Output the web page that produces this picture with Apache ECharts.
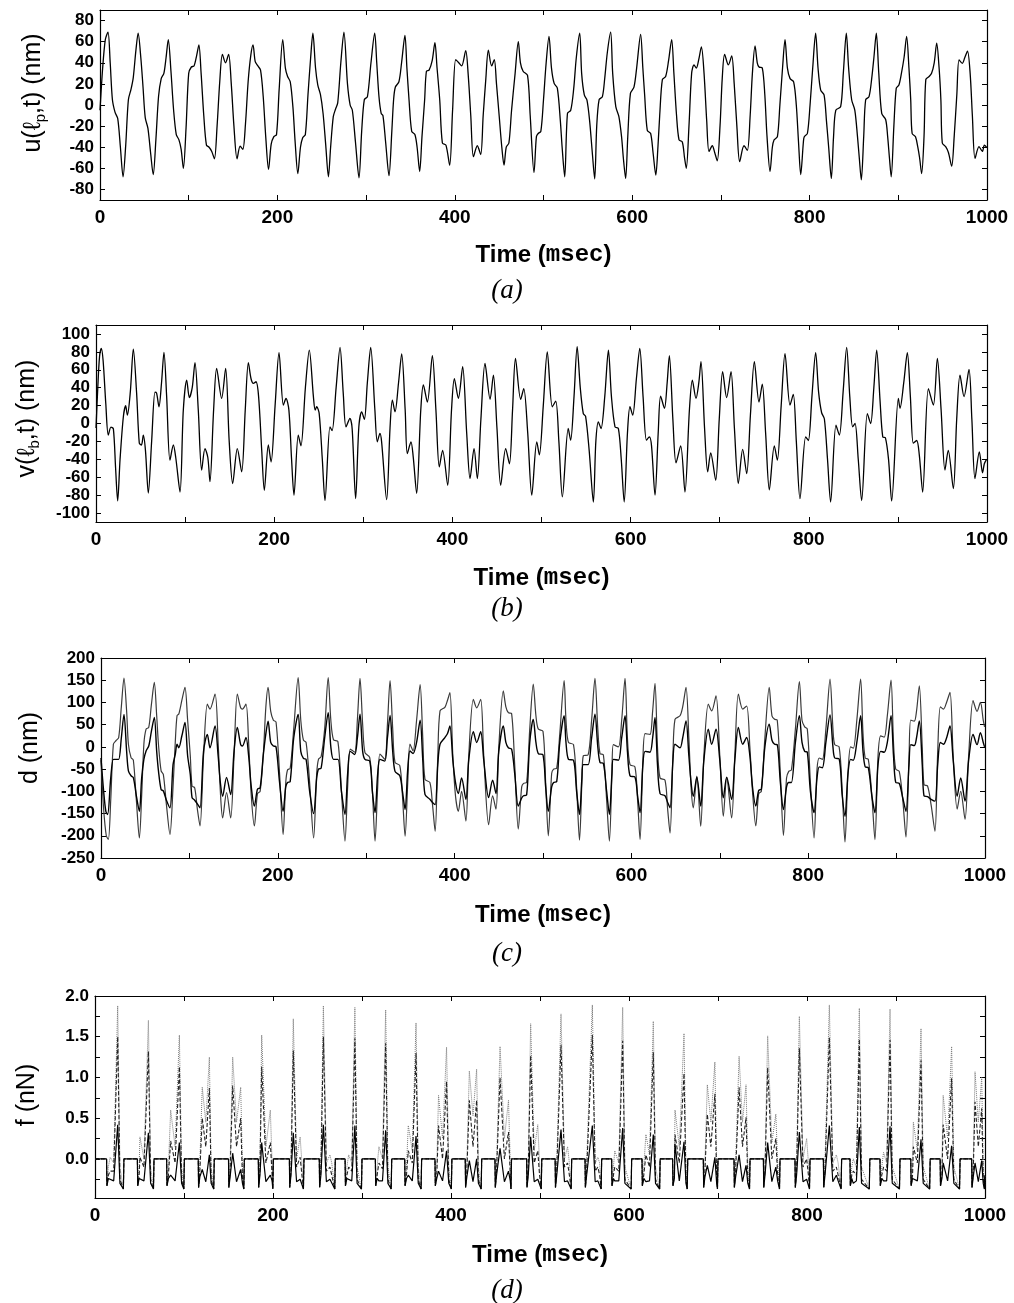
<!DOCTYPE html>
<html><head><meta charset="utf-8">
<script src="https://cdn.jsdelivr.net/npm/echarts@6/dist/echarts.min.js"></script>
<style>html,body{margin:0;padding:0;background:#fff}#c{width:1014px;height:1303px}</style>
</head><body><div id="c"></div>
<script>
// ---------------- tick labels ----------------
const xLabelVals = [0, 200, 400, 600, 800, 1000];
const uTicks = [-80, -60, -40, -20, 0, 20, 40, 60, 80];
const vTicks = [-100, -80, -60, -40, -20, 0, 20, 40, 60, 80, 100];
const dTicks = [-250, -200, -150, -100, -50, 0, 50, 100, 150, 200];
const fLabelVals = [0, 0.5, 1.0, 1.5, 2.0];
const fTickVals = [-0.25, 0, 0.25, 0.5, 0.75, 1.0, 1.25, 1.5, 1.75, 2.0];

// ---------------- (a) u(lp,t) [time ms, nm] ----------------
const uData = [
[0,-5],[3,35],[6,62],[9,69],[11.5,40],[14,5],[17,-7],[20,-13],[23,-40],[26,-68],[29,-38],[32,5],[35,15],[37.5,26],[40.5,52],[43,68],
[46,45],[48.5,17],[51,-12],[54,-22],[57,-45],[60,-66],[63,-33],[66,8],[69,25],[72,30],[74.5,45],[77,62],
[80,32],[83,-5],[86,-28],[89,-33],[91.5,-42],[94,-60],[97,-22],[100,30],[103,36],[106,37],[109,47],[111.5,57],
[114,30],[117,-10],[120,-38],[123,-40],[126,-44],[129,-51],[132,-20],[135,22],[138,48],[141.5,40],[145,48],
[148,20],[151,-20],[154.5,-51],[158,-39],[161,-42],[164,-18],[167,22],[170,47],[172.5,57],
[175,41],[178,37],[181,33],[184,8],[187,-32],[190,-61],[193,-37],[196,-30],[199,-28],[202,15],[206,62],
[209,35],[211.5,27],[214.5,22],[217.5,-2],[220,-35],[223,-65],[226,-40],[228.5,-31],[231.5,-28],[234.5,10],[237.5,45],[240,68],
[243,35],[245.5,19],[248.5,10],[251.5,-8],[254.5,-38],[257.5,-68],
[260,-40],[263,-11],[265.5,-4],[268,2],[271.5,40],[275,69],
[279,20],[282,0],[284.5,-5],[288,-35],[292,-69],
[295,-25],[298,5],[301.5,8],[305.5,40],[309.7,68],
[312,40],[314.5,8],[317,-8],[319,-10],[322,-35],[325.8,-67],
[329,-25],[331,5],[333,17],[337,22],[340,40],[343.8,66],
[346,35],[348.4,5],[351.4,-25],[355,-28],[357.5,-40],[360.4,-63],
[363,-30],[366,5],[368,32],[371,33],[374.5,42],[377.6,59],
[380,35],[383,5],[386,-36],[390,-38],[394.2,-57],
[397.5,-5],[401,43],[404.5,40],[407.7,37],[412.3,51.5],
[415,30],[418,-10],[421,-49],[425.4,-38.6],[429.2,-47],
[432,-10],[435,25],[437.8,52],[441.5,37],[444.5,43],
[447,20],[450,-10],[453,-40],[455.5,-57],[458,-40],[461,-36],[464,-5],[468,30],[471.6,60],
[474,40],[477,32],[482,28],[485,-10],[489.3,-64],
[492,-30],[494,-27],[497,-25],[500,5],[503,40],[506.2,65],
[509,35],[512,20.5],[515.6,16],[519,-15],[521,-40],[523.9,-68],
[527,-8],[530.7,-5],[534,15],[537,45],[540.8,68],
[543,30],[546,9.5],[549,4.7],[552,-15],[555,-45],[557.7,-70],
[560,-20],[562.7,5],[566.4,8],[569,25],[572,50],[575.7,69],
[578,30],[581.5,-1.6],[585,-11],[588,-30],[590,-50],[592.6,-69.6],
[595,-30],[598,11],[602,17],[605,35],[609.5,67],
[612,35],[614,10],[617,-24],[620.8,-27],[623.5,-45],[626.6,-66.4],
[629,-40],[631,-10],[634,24],[637.7,27],[641,42],[644.5,62],
[647,30],[650,-10],[652.8,-33],[656.5,-35],[659,-50],[661,-60],
[664,-20],[667,30],[669.7,38],[672.3,35],[675,43],[678,55],
[681,30],[684,-15],[686.6,-44],[690.3,-38.6],[693,-45],[695.9,-52.8],
[699,-20],[701.5,25],[704.2,48],[708.4,38],[712.2,46.5],
[715,20],[718,-20],[721.2,-53.7],[726,-38.6],[729.8,-43],
[733,-10],[735.5,30],[738.5,56],[741,40],[743,36],[746.7,35],
[749.5,10],[752,-30],[755.4,-63],[758,-40],[760,-33],[763.7,-30],
[766.5,0],[769.5,35],[772.3,62],[775,35],[778,25],[782,22],
[785,0],[787.5,-35],[790,-66],[793,-35],[794,-30],[797.5,-27],
[800.5,0],[803.5,35],[806.8,68],[809.5,35],[812.5,14],[816.3,9.5],
[819,-15],[821.5,-40],[824.5,-69.6],[827,-30],[829.5,-5],[835,-1.6],
[838,30],[841.4,68],[844,35],[847.4,5],[851,-5],
[854,-30],[856,-50],[858.3,-71],[861,-30],[863.2,5],[867,8],
[870,25],[872.5,45],[875.2,68],[878,30],[881.3,-8],[885.8,-14],
[888,-30],[890,-50],[892,-68],[895,-20],[897.7,16],[900.7,19],
[903.5,30],[906.5,45],[909.4,65],[912,35],[914,5],[915.6,-27],[919.4,-30],
[922,-40],[924,-50],[926.3,-65],[929,-30],[931,24],[934.7,27],
[937.5,30],[940.5,40],[943.3,58.5],[946,35],[948,5],[949.6,-36],[953.4,-39.5],
[956.5,-45],[960.2,-58],[963,-30],[966,10],[968.5,42.7],[972.2,39.5],[975,45],[978,51],
[981,30],[983.5,-10],[986.5,-50.6],[991,-39.5],[994.8,-44],[997,-38],[999.5,-40]
];

// ---------------- (b) v(lb,t) [time ms, nm] ----------------
const vData = [
[0,-5],[2,40],[4,75],[6,84],[8,70],[11,22],[13.8,-13],[16.8,-4],[19.5,-6],[22,-50],[24.3,-86.5],
[27,-40],[30.7,7.5],[33.3,19.8],[35.2,9.3],[38.5,35],[41.9,83],
[45.6,33.6],[48.6,-22],[51,-24],[53.1,-13],[55.5,-30],[58.7,-77.6],
[62.5,-19],[66.2,35],[68,34],[70.7,18.7],[73.5,45],[76.3,79.5],
[79.3,30],[83,-41],[86.8,-24],[89.5,-38],[94.3,-76.5],
[98,15],[101.8,48.5],[104.8,29],[108,40],[111.1,68],
[114.8,15],[118.6,-52],[122.3,-28],[125.5,-38],[127.9,-65],
[132,15],[135.4,61.6],[141,28],[145.5,61.6],
[149.5,-20],[153.4,-67],[158.6,-28],[163.5,-54],
[167.5,15],[171,68],[174,50],[176.6,44.8],[179.6,46.6],[182.5,30],[186,-30],[188.9,-74.6],
[193.4,-24],[196.5,-43],[201,20],[205.4,79],
[210.3,20.5],[213.2,28],[216.5,15],[219.5,-40],[222.2,-80],
[227,-13],[230,-25],[235,40],[239.4,82],
[244,30],[246,15],[247.7,18.7],[250.5,11],[254,-40],[257,-86],
[262.6,-3.7],[265,-8],[269.5,40],[273.9,85],
[277.5,33.6],[280.6,-3.7],[285,5.6],[287.5,-6],[291.4,-84],
[295,-3.7],[298.2,13],[301.2,4.5],[304.5,45],[308.3,85],
[313,15],[315.7,-20.5],[318.7,-11],[320.5,-20],[326.2,-85],
[330,-5],[332.6,26],[335.6,13],[339.5,45],[343.1,77.6],
[347,15],[349.4,-33.6],[353.5,-20.5],[356,-37],[359.9,-78],
[364.5,15],[367.4,43],[371.9,24],[377.5,75.7],
[381.5,15],[385.3,-48.5],[389,-30],[394.7,-69],
[399,15],[402.2,50],[406.7,28],[411.5,63.4],
[416,-10],[419.8,-61.5],[424.3,-28],[428,-61.5],
[432,5],[436.6,67],[442.3,27],[446,54],
[450,-5],[454.2,-69],[459.8,-28],[464,-45],
[467.5,15],[470.8,72.8],[476.6,27],[480.1,39],[484.5,-10],[489.1,-80],
[494.7,-20.5],[497.6,-35],[502,20],[506.5,80],
[512.1,18.7],[516,25],[519.5,-20],[523.4,-82],
[530,-5.6],[532.7,-18.6],[536.5,30],[540,85.8],
[543.5,40],[546.9,11],[549.5,8],[553.5,-30],[558.2,-87.7],
[561,-20],[563.8,1.9],[566.8,-5.6],[571,30],[575.1,82],
[578.5,30],[582.5,-3.7],[586.3,-5.6],[589.5,-40],[592.8,-87.7],
[596.5,-10],[599.3,18.7],[602.4,9.3],[606.5,50],[610.3,84],
[614,30],[617.8,-18.6],[621.1,-15],[623.5,-25],[627.4,-80],
[631,-10],[633.7,30.6],[638,17],[641,45],[643.5,75.7],
[647.5,3.7],[651,-44],[656.2,-25],[661,-76.5],
[666,15],[669.3,48.5],[673.4,28],[676.5,45],[679,69],
[683,-5],[686.5,-54],[689.9,-32.8],[695.5,-63.4],
[699.5,5],[703.3,58],[707.8,29],[712.7,58],
[716.5,-5],[720.9,-67],[725.8,-29],[730.3,-56],
[734.5,10],[738.9,69],[744.1,24],[747.8,44],
[751.5,-10],[755.7,-74],[761.3,-25],[764.7,-41],
[769,20],[773.3,78],[778.9,20.5],[782.6,32.5],
[786,-20],[790.1,-84],[796.5,-15],[799.5,-19],
[803.5,30],[807.7,79],[811,35],[814.4,12],[817.5,5],[821,-40],[824.5,-87.7],
[830.5,-1.9],[834.3,-13],[838.5,35],[842.5,85],
[846,30],[849.2,-3.7],[851.9,0],[855.5,-40],[859.3,-86],
[865.7,11],[869.4,0],[873,40],[876.2,82],
[880,25],[883,-15],[886,-16],[889.5,-40],[893,-86.5],
[900.5,28],[902.4,17],[906.5,45],[910.6,79],
[914,30],[917.3,-22],[921.1,-19],[924,-35],[927.8,-76.5],
[934.2,39],[939.8,20.5],[944.3,72.8],
[948.5,15],[952.8,-52],[956.5,-30],[962.2,-72.7],
[966,5],[969.7,54],[974.2,30],[979.8,60.5],
[983,5],[986.5,-61.5],[991.4,-31.7],[995,-55],[997,-45],[999.5,-40]
];

// ---------------- (c) d, outer curve [time ms, nm] ----------------
const dOuter = [
[0,-30],[3,-140],[6,-200],[8.3,-208],[11,-120],[14,6],[17,14],[20,21],[23,90],[26,155],
[29,80],[31,6],[34,-24],[36.6,-30],[40,-120],[43.4,-205],
[46,-110],[48.5,6],[51,40],[54,44],[57,95],[60.3,145],
[63,70],[65,6],[68,-54],[70.5,-62],[74,-130],[78,-197],
[81.5,-90],[84,10],[86,70],[88,74],[91.5,105],[95,134],
[98,60],[101,-20],[103,-88],[106,-92],[109,-140],[112,-178],
[116,-20],[120.3,96],[123.3,85],[129,119],
[132.5,10],[135,-100],[137.6,-160],[142,-103],[146.7,-160],
[150.5,-20],[154.2,119],[158,88],[160,85],[164,96],
[167,10],[170,-110],[173.5,-178],[177,-105],[180,-100],
[183.5,-20],[186.5,90],[189,134],[192,80],[195,60],[198,56],
[202,-60],[206,-197],[209,-80],[211,-52],[214,-48],
[218,40],[223,156],[226,60],[229,15],[232,10],
[236,-80],[240.5,-205],[244,-60],[246,-28],[249,-22],
[253,40],[257,156],[260,60],[263,16],[268,12],
[272,-100],[276,-212],[279,-90],[282,-5],[287,-12],
[290,60],[293,154],[296,50],[298.6,-13],[304,-24],
[307,-100],[310,-212],[313,-90],[315.6,-16],[321,-28],
[324,50],[327,149],[330,40],[332.6,-35],[338,-42],
[341,-110],[344,-201],[347,-80],[349.5,6],[353,-9],
[357,60],[361,140],[364,20],[366.5,-73],[372,-80],
[375,-130],[378,-190],[381,-20],[383.5,81],[389,89],
[392,105],[394.7,122],[398,-20],[401,-110],[404.2,-145],[407.9,-100],[412.8,-167],
[416,-20],[421.2,107],[425,88],[429.5,107],
[433,-20],[438.5,-175],[443,-110],[446.8,-140],
[450,0],[455.1,126],[458,90],[460.8,77],[464.5,75],
[468,-40],[472,-185],[475.9,-90],[478,-82],[481.5,-80],
[485,40],[489,141],[492,70],[494.7,40],[500,35],
[503,-80],[506,-200],[509.8,-60],[512,-50],[515.5,-48],
[519,30],[523.9,149],[526,60],[528.8,10],[534.5,5],
[538,-90],[541.3,-210],[544,-80],[545.6,-20],[551,-18],
[555,60],[558.8,154],[562,40],[564.5,-15],[568.3,-18],
[572,-120],[575.1,-212],[578,-60],[579.6,5],[585.3,0],
[589,60],[592.8,154],[595.5,20],[598.4,-40],[604,-45],
[607,-120],[609.8,-208],[613,-30],[615.5,30],[621,28],
[624,80],[626.7,143],[629.5,0],[632.4,-70],[638,-75],
[641,-140],[643.7,-194],[647,-20],[649.3,62],[655,70],
[658,90],[661.8,134],[665,20],[667.5,-90],[670,-137],[674,-66],[678.4,-178.5],
[682,-20],[687,96],[690.8,81],[695.7,115],
[700,-20],[704,-156],[707.8,-69],[713.4,-160],
[717,-20],[721,119],[725.9,85],[730.4,92],
[734,0],[737,-100],[740.7,-178],[744,-105],[747,-100],
[751,20],[755.9,134],[759,70],[762,62],[765,60],
[768.5,-60],[772,-199],[775.5,-70],[778,-55],[781,-52],
[785.5,40],[790,147],[793,60],[796,45],[799,40],
[802.5,-80],[806.6,-205],[810,-50],[812.5,-25],[816,-28],
[820,40],[824.7,152.6],[828,40],[830,5],[835,0],
[838.5,-100],[841.6,-214],[845,-60],[848,0],[851,-3],
[855,60],[859.3,152.6],[862,30],[864.5,-25],[868,-28],
[872,-110],[875.5,-208.6],[879,-20],[882,25],[886,22],
[889.5,70],[893.7,150],[896.5,10],[899,-50],[903,-55],
[907,-120],[910.6,-203],[914,-30],[916,60],[920,58],
[922.5,80],[925.7,137.5],[929,0],[931,-85],[935,-88],
[939,-130],[943.4,-190],[946.5,-10],[949.5,90],[953,85],
[956.5,100],[960.4,122.5],[964,-20],[968.5,-140],[972.5,-100],[977.4,-163],
[981.5,-20],[986.5,104],[991,80],[994.8,100],[998,60],[999.5,45]
];

// ---------------- (c) d, inner curve [time ms, nm] ----------------
const dInner = [
[0,-25],[3,-100],[5.5,-145],[7.5,-152],[11,-70],[14,-28],[17,-28],[20,-28],[23,20],[26,73],
[29,-10],[31,-54],[34,-65],[36.6,-69],[40,-110],[43.4,-145],
[46,-70],[48.5,-28],[51,-9],[54,2],[57,35],[60.3,66],
[63,-10],[65,-54],[68,-96],[70.5,-99],[74,-120],[78,-137],
[81.5,-40],[84,-17],[86,6],[88,-2],[91.5,25],[95,55],
[98,-20],[101,-62],[103,-114],[106,-120],[109,-128],[112,-137],
[116,-10],[120.3,28],[123.3,-2],[129,47],
[132.5,-20],[135,-80],[137.6,-111],[142,-69],[146.7,-107],
[150.5,-10],[154.2,43.5],[158,5],[160,2],[164,21],
[167,-20],[170,-90],[173.5,-133],[177,-95],[180,-92],
[183.5,-20],[186.5,30],[189,58],[192,10],[195,2],[198,0],
[202,-80],[206,-145],[209,-90],[211,-80],[214,-78],
[218,20],[223,73],[226,-10],[229,-26],[232,-28],
[236,-100],[240.5,-150],[244,-70],[246,-50],[249,-48],
[253,20],[257,77],[260,0],[263,-28],[268,-28],
[272,-100],[276,-152],[279,-60],[282,-10],[287,-17],
[290,20],[293,73.6],[296,-10],[298.6,-28],[304,-32],
[307,-100],[310,-148],[313,-60],[315.6,-28],[321,-32],
[324,20],[327,71],[330,-10],[332.6,-55],[338,-65],
[341,-100],[344,-141],[347,-50],[349.5,-9],[353,-15],
[357,10],[361,60],[364,-30],[366.5,-107],[372,-118],
[375,-125],[378,-130],[381,-40],[383.5,6],[389,21],
[392,30],[394.7,47],[398,-30],[401,-80],[404.2,-105],[407.9,-70],[412.8,-118],
[416,-30],[421.2,34],[425,10],[429.5,34],
[433,-30],[438.5,-114],[443,-75],[446.8,-105],
[450,-10],[455.1,47],[458,10],[460.8,-2],[464.5,-5],
[468,-60],[472,-133],[475.9,-115],[478,-110],[481.5,-108],
[485,10],[489,62],[492,10],[494.7,-15],[500,-18],
[503,-90],[506,-145],[509.8,-90],[512,-80],[515.5,-78],
[519,10],[523.9,70],[526,10],[528.8,-28],[534.5,-30],
[538,-100],[541.3,-152],[544,-70],[545.6,-40],[551,-40],
[555,20],[558.8,73.6],[562,0],[564.5,-35],[568.3,-37],
[572,-100],[575.1,-152],[578,-60],[579.6,-28],[585.3,-30],
[589,20],[592.8,70],[595.5,-10],[598.4,-65],[604,-68],
[607,-110],[609.8,-148],[613,-40],[615.5,-10],[621,-12],
[624,20],[626.7,66],[629.5,-40],[632.4,-105],[638,-110],
[641,-125],[643.7,-137],[647,-30],[649.3,6],[655,-2],
[658,20],[661.8,58.5],[665,-20],[667.5,-80],[670,-111],[674,-68],[678.4,-133],
[682,-30],[687,40],[690.8,6],[695.7,40],
[700,-30],[704,-114.5],[707.8,-68],[713.4,-118],
[717,-30],[721,43.5],[725.9,6],[730.4,21],
[734,-20],[737,-90],[740.7,-133],[744,-98],[747,-95],
[751,0],[755.9,51],[759,15],[762,6],[765,5],
[768.5,-80],[772,-141],[775.5,-90],[778,-80],[781,-80],
[785.5,10],[790,70],[793,10],[796,-10],[799,-12],
[802.5,-100],[806.6,-148],[810,-70],[812.5,-45],[816,-47],
[820,10],[824.7,72],[828,0],[830,-25],[835,-27],
[838.5,-110],[841.6,-156],[845,-60],[848,-28],[851,-30],
[855,10],[859.3,70],[862,-10],[864.5,-45],[868,-47],
[872,-110],[875.5,-148],[879,-40],[882,-10],[886,-12],
[889.5,10],[893.7,70],[896.5,-20],[899,-80],[903,-82],
[907,-115],[910.6,-145],[914,-40],[916,5],[920,3],
[922.5,20],[925.7,58.5],[929,-40],[931,-110],[935,-112],
[939,-118],[943.4,-122],[946.5,-40],[949.5,10],[953,6],
[956.5,20],[960.4,47],[964,-30],[968.5,-111],[972.5,-70],[977.4,-122],
[981.5,-30],[986.5,28],[991,5],[994.8,32],[998,10],[999.5,0]
];

// ---------------- (d) f : shared time axis (ms) + three force traces (nN) ----------------
const fTime = [
0,
13,13.4,15,17,21,25.5,28,31.9,32.5,
47.6,48,49.6,50.5,55,60,62.5,65.7,66.3,
80.5,80.9,82.5,85,90,94.8,97.3,99.8,100.4,
116,116.4,117.8,120.5,124.5,128.5,130.5,133.4,134,
150,150.4,151.8,154.7,159,163.7,165.7,167.2,167.8,
183.5,183.9,185.3,187.3,192,197,199,199.8,200.4,
218.4,218.8,220.2,222.8,226.5,230.5,232.5,234.2,234.8,
252,252.4,253.8,256.6,260,264,266,269.4,270,
281,281.4,283,285,288.5,292,294.5,299.4,300,
315,315.4,317,319,323,326.6,329.1,332.8,333.4,
348,348.4,350,352,356.5,360.7,363.2,366.4,367,
382,382.4,384,386,390.5,395,397.5,400.4,401,
416,416.4,417.8,420.6,424.7,428.8,430.8,433.9,434.5,
449.4,449.8,451.2,455.1,460,464.6,466.6,467.4,468,
485,485.4,486.8,489.5,493.5,497.5,499.5,501.4,502,
517,517.4,518.8,523.6,527.5,531,533,535,535.6,
550.6,551,552.4,558.8,562,565,567,568.7,569.3,
580.5,580.9,582.5,584,588.5,592.9,595.4,602.4,603,
614.6,615,616.6,619,623,627.3,629.8,634.4,635,
649,649.4,651,651.7,656.5,661.8,664,665.4,666,
683.5,683.9,685.3,688,692,696.5,698.5,699.4,700,
718,718.4,719.8,723.7,727.5,731.5,733.5,735.4,736,
751,751.4,752.8,755.8,760.5,765,767,769.1,769.7,
786.5,786.9,788.3,791.4,795.5,799.6,801.6,802.8,803.4,
818.4,818.8,820.2,825.1,829,833,835,838.3,838.9,
848.3,848.7,850.3,852,855.5,858.8,861.3,870,870.6,
882,882.4,884,886,889.5,893.3,895.8,903.9,904.5,
916.6,917,918.6,919.5,924,928.1,930.6,937.8,938.4,
949.6,950,951.6,953,958,962.5,965,971.4,972,
985,985.4,986.8,988.8,992.5,996.3,998,999.4,999.8
];
const fSolid = [
0,
0,-0.33,-0.24,-0.22,-0.27,0.42,-0.3,-0.37,0,
0,-0.33,-0.24,-0.25,-0.27,0.32,-0.3,-0.37,0,
0,-0.33,-0.24,-0.2,-0.27,0.2,-0.3,-0.37,0,
0,-0.35,-0.22,-0.13,-0.28,0.05,-0.3,-0.37,0,
0,-0.35,-0.22,0.07,-0.28,-0.13,-0.3,-0.37,0,
0,-0.35,-0.2,0.2,-0.28,-0.2,-0.27,-0.37,0,
0,-0.35,-0.2,0.32,-0.28,-0.25,-0.27,-0.37,0,
0,-0.35,-0.2,0.42,-0.28,-0.25,-0.27,-0.37,0,
0,-0.33,-0.24,-0.25,-0.27,0.41,-0.3,-0.37,0,
0,-0.33,-0.24,-0.27,-0.27,0.35,-0.3,-0.37,0,
0,-0.33,-0.24,-0.2,-0.27,0.28,-0.3,-0.37,0,
0,-0.33,-0.24,-0.15,-0.27,0.1,-0.3,-0.37,0,
0,-0.35,-0.22,-0.02,-0.28,0.0,-0.3,-0.37,0,
0,-0.35,-0.2,0.13,-0.28,-0.15,-0.27,-0.37,0,
0,-0.35,-0.2,0.27,-0.28,-0.25,-0.27,-0.37,0,
0,-0.35,-0.2,0.36,-0.28,-0.27,-0.27,-0.37,0,
0,-0.35,-0.2,0.41,-0.28,-0.27,-0.27,-0.37,0,
0,-0.33,-0.24,-0.27,-0.27,0.38,-0.3,-0.37,0,
0,-0.33,-0.24,-0.28,-0.27,0.3,-0.3,-0.37,0,
0,-0.33,-0.24,0.18,-0.27,0.21,-0.3,-0.37,0,
0,-0.35,-0.22,-0.08,-0.28,0.02,-0.3,-0.37,0,
0,-0.35,-0.22,0.05,-0.28,-0.08,-0.3,-0.37,0,
0,-0.35,-0.2,0.2,-0.28,-0.1,-0.27,-0.37,0,
0,-0.35,-0.2,0.33,-0.28,-0.25,-0.27,-0.37,0,
0,-0.35,-0.2,0.41,-0.28,-0.2,-0.27,-0.37,0,
0,-0.33,-0.24,-0.3,-0.27,0.39,-0.3,-0.37,0,
0,-0.33,-0.24,-0.27,-0.27,0.4,-0.3,-0.37,0,
0,-0.33,-0.24,-0.25,-0.27,0.24,-0.3,-0.37,0,
0,-0.33,-0.24,-0.05,-0.27,0.16,-0.3,-0.37,0,
0,-0.35,-0.22,-0.05,-0.28,-0.02,-0.3,-0.37,-0.2
];
const fDashed = [
0,
0,-0.33,-0.2,-0.15,-0.15,1.5,-0.25,-0.37,0,
0,-0.33,-0.2,0.02,-0.1,1.32,-0.25,-0.37,0,
0,-0.33,-0.2,0.22,-0.05,1.13,-0.25,-0.37,0,
0,-0.35,-0.15,0.5,0.15,0.87,-0.25,-0.37,0,
0,-0.35,-0.15,0.9,0.15,0.5,-0.25,-0.37,0,
0,-0.35,-0.15,1.13,-0.05,0.2,-0.2,-0.37,0,
0,-0.35,-0.15,1.33,-0.1,0.02,-0.2,-0.37,0,
0,-0.35,-0.15,1.5,-0.15,-0.1,-0.2,-0.37,0,
0,-0.33,-0.2,-0.1,-0.15,1.48,-0.25,-0.37,0,
0,-0.33,-0.2,-0.05,-0.12,1.42,-0.25,-0.37,0,
0,-0.33,-0.2,0.1,-0.05,1.3,-0.25,-0.37,0,
0,-0.33,-0.2,0.41,0.0,0.95,-0.25,-0.37,0,
0,-0.35,-0.15,0.72,0.15,0.72,-0.25,-0.37,0,
0,-0.35,-0.15,1.0,0.0,0.33,-0.2,-0.37,0,
0,-0.35,-0.15,1.27,-0.05,0.1,-0.2,-0.37,0,
0,-0.35,-0.15,1.4,-0.1,-0.05,-0.2,-0.37,0,
0,-0.35,-0.15,1.52,-0.15,-0.1,-0.2,-0.37,0,
0,-0.33,-0.2,-0.1,-0.15,1.45,-0.25,-0.37,0,
0,-0.33,-0.2,0.05,-0.1,1.31,-0.25,-0.37,0,
0,-0.33,-0.2,0.3,-0.05,1.05,-0.25,-0.37,0,
0,-0.35,-0.15,0.55,0.15,0.8,-0.25,-0.37,0,
0,-0.35,-0.15,0.88,0.15,0.51,-0.25,-0.37,0,
0,-0.35,-0.15,1.12,0.0,0.25,-0.2,-0.37,0,
0,-0.35,-0.15,1.36,-0.1,0.0,-0.2,-0.37,0,
0,-0.35,-0.15,1.49,-0.15,-0.1,-0.2,-0.37,0,
0,-0.33,-0.2,-0.15,-0.2,1.47,-0.25,-0.37,0,
0,-0.33,-0.2,-0.1,-0.15,1.46,-0.25,-0.37,0,
0,-0.33,-0.2,0.15,-0.05,1.21,-0.25,-0.37,0,
0,-0.33,-0.2,0.42,0.0,0.99,-0.25,-0.37,0,
0,-0.35,-0.15,0.7,0.15,0.62,-0.25,-0.37,-0.2
];
const fDotted = [
0,
0,-0.33,-0.1,0.02,-0.05,1.88,-0.1,-0.37,0,
0,-0.33,-0.1,0.27,0.0,1.7,-0.1,-0.37,0,
0,-0.33,-0.1,0.6,0.15,1.52,-0.1,-0.37,0,
0,-0.35,-0.05,0.88,0.45,1.25,-0.1,-0.37,0,
0,-0.35,-0.05,1.25,0.45,0.88,-0.1,-0.37,0,
0,-0.35,-0.05,1.52,0.15,0.6,-0.05,-0.37,0,
0,-0.35,-0.05,1.72,0.0,0.27,-0.05,-0.37,0,
0,-0.35,-0.05,1.88,-0.05,0.05,-0.05,-0.37,0,
0,-0.33,-0.1,0.05,-0.05,1.86,-0.1,-0.37,0,
0,-0.33,-0.1,0.15,0.0,1.83,-0.1,-0.37,0,
0,-0.33,-0.1,0.41,0.1,1.67,-0.1,-0.37,0,
0,-0.33,-0.1,0.78,0.25,1.37,-0.1,-0.37,0,
0,-0.35,-0.05,1.08,0.53,1.1,-0.1,-0.37,0,
0,-0.35,-0.05,1.38,0.25,0.72,-0.05,-0.37,0,
0,-0.35,-0.05,1.66,0.1,0.42,-0.05,-0.37,0,
0,-0.35,-0.05,1.78,0.0,0.15,-0.05,-0.37,0,
0,-0.35,-0.05,1.89,-0.05,0.02,-0.05,-0.37,0,
0,-0.33,-0.1,0.1,-0.05,1.86,-0.1,-0.37,0,
0,-0.33,-0.1,0.3,0.05,1.69,-0.1,-0.37,0,
0,-0.33,-0.1,0.6,0.15,1.54,-0.1,-0.37,0,
0,-0.35,-0.05,0.91,0.45,1.19,-0.1,-0.37,0,
0,-0.35,-0.05,1.26,0.45,0.91,-0.1,-0.37,0,
0,-0.35,-0.05,1.51,0.2,0.55,-0.05,-0.37,0,
0,-0.35,-0.05,1.75,0.0,0.25,-0.05,-0.37,0,
0,-0.35,-0.05,1.89,-0.05,0.05,-0.05,-0.37,0,
0,-0.33,-0.1,0.0,-0.1,1.85,-0.1,-0.37,0,
0,-0.33,-0.1,0.08,-0.05,1.84,-0.1,-0.37,0,
0,-0.33,-0.1,0.45,0.1,1.6,-0.1,-0.37,0,
0,-0.33,-0.1,0.78,0.25,1.38,-0.1,-0.37,0,
0,-0.35,-0.05,1.07,0.45,1.0,-0.1,-0.37,-0.2
];

// ---------------- chart ----------------
const FONT = '"Liberation Sans", Arial, Helvetica, sans-serif';
const MONO = '"Liberation Mono", "Courier New", monospace';
const SERIF = '"Liberation Serif", "Times New Roman", serif';

const panels = [
  { grid:{left:100, top:10, width:887, height:190}, ymin:-90, ymax:90, yTicks:uTicks, yLabels:uTicks,
    yName:'u(ℓ{sub|p},t) (nm)', yGap:52, yShift:24, xGap:43, tag:'(a)', tagY:290, fmt:v=>String(v) },
  { grid:{left:96, top:325, width:891, height:197}, ymin:-110, ymax:110, yTicks:vTicks, yLabels:vTicks,
    yName:'v(ℓ{sub|b},t) (nm)', yGap:54, yShift:10, xGap:44, tag:'(b)', tagY:608, fmt:v=>String(v) },
  { grid:{left:101, top:658, width:884, height:200}, ymin:-250, ymax:200, yTicks:dTicks, yLabels:dTicks,
    yName:'d (nm)', yGap:56, yShift:20, xGap:45, tag:'(c)', tagY:953, fmt:v=>String(v) },
  { grid:{left:95, top:996, width:890, height:202}, ymin:-0.48, ymax:2.0, yTicks:fTickVals, yLabels:fLabelVals,
    yName:'f (nN)', yGap:53, yShift:4, xGap:45, tag:'(d)', tagY:1290, fmt:v=>v.toFixed(1) }
];

const grids = [], xAxes = [], yAxes = [], graphics = [];
panels.forEach((p, i) => {
  grids.push(Object.assign({containLabel:false}, p.grid));
  const lineSt = {color:'#000', width:1.2};
  const base = {type:'value', gridIndex:i, min:0, max:1000, interval:100,
    axisLine:{show:true, onZero:false, lineStyle:lineSt},
    axisTick:{show:true, inside:true, length:5, lineStyle:{color:'#000', width:1}},
    splitLine:{show:false}};
  xAxes.push(Object.assign({}, base, {position:'bottom',
    axisLabel:{show:true, customValues:xLabelVals, formatter:v=>String(v), color:'#000',
      fontFamily:FONT, fontSize:19, fontWeight:'bold', margin:8},
    name:'Time ({m|msec})', nameLocation:'middle', nameGap:p.xGap,
    nameTextStyle:{color:'#000', fontFamily:FONT, fontSize:24, fontWeight:'bold',
      rich:{m:{fontFamily:MONO, fontSize:24, fontWeight:'bold', color:'#000'}}}}));
  xAxes.push(Object.assign({}, base, {position:'top', axisLabel:{show:false}}));
  const ybase = {type:'value', gridIndex:i, min:p.ymin, max:p.ymax,
    axisLine:{show:true, onZero:false, lineStyle:lineSt},
    axisTick:{show:true, inside:true, length:5, customValues:p.yTicks, lineStyle:{color:'#000', width:1}},
    splitLine:{show:false}};
  yAxes.push(Object.assign({}, ybase, {position:'left',
    axisLabel:{show:true, customValues:p.yLabels, formatter:p.fmt, color:'#000',
      fontFamily:FONT, fontSize:17, fontWeight:'bold', margin:6},
    name:p.yName, nameLocation:'middle', nameGap:p.yGap,
    nameTextStyle:{color:'#000', fontFamily:FONT, fontSize:25, lineHeight:30, padding:[0,0,0,p.yShift],
      rich:{sub:{fontFamily:FONT, fontSize:15, lineHeight:30, verticalAlign:'bottom', color:'#000'}}}}));
  yAxes.push(Object.assign({}, ybase, {position:'right', axisLabel:{show:false}}));
  graphics.push({type:'text', left:'center', top:p.tagY - 13,
    style:{text:p.tag, font:'italic 27px ' + SERIF, fill:'#000'}});
});

const line = (xi, data, color, width, type, z) => ({
  type:'line', xAxisIndex:xi, yAxisIndex:xi, data:data, showSymbol:false, symbol:'none',
  smooth:0.3, z:z || 2, animation:false,
  lineStyle:{color:color, width:width, type:type || 'solid'}
});
const pairs = arr => fTime.map((t, k) => [t, arr[k]]);

const series = [
  line(0, uData, '#000', 1.3),
  line(2, vData, '#000', 1.3),
  line(4, dOuter, '#3a3a3a', 1.2),
  line(4, dInner, '#000', 1.4, 'solid', 3),
  Object.assign(line(6, pairs(fDotted), '#7a7a7a', 1, 'dotted', 2), {smooth:false}),
  Object.assign(line(6, pairs(fDashed), '#222', 1.1, [4, 2], 3), {smooth:false}),
  Object.assign(line(6, pairs(fSolid), '#000', 1.2, 'solid', 4), {smooth:false})
];

const chart = echarts.init(document.getElementById('c'), null, {renderer:'canvas'});
chart.setOption({
  backgroundColor:'#fff', animation:false,
  grid:grids, xAxis:xAxes, yAxis:yAxes, series:series,
  graphic:{elements:graphics}
});
</script>
</body></html>
